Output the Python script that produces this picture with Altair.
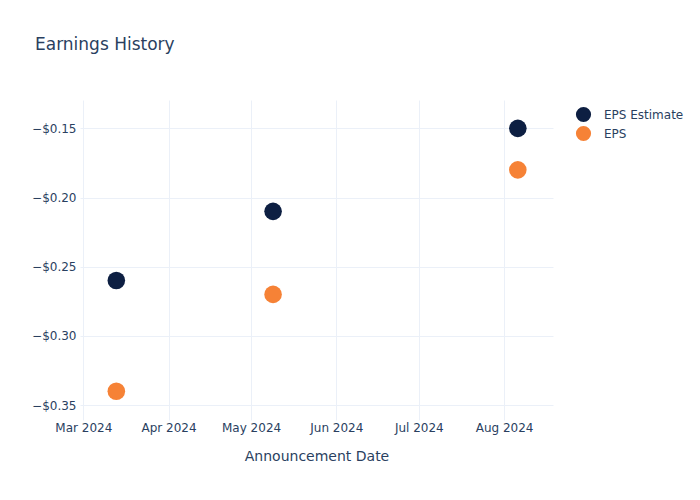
import altair as alt
import pandas as pd

dates = ["2024-03-13", "2024-05-09", "2024-08-06"]
eps_estimate = [-0.26, -0.21, -0.15]
eps_actual = [-0.34, -0.27, -0.18]
series_names = ["EPS Estimate", "EPS"]
series_colors = ["#0d1f42", "#f68236"]

rows = []
for d, e in zip(dates, eps_estimate):
    rows.append({"date": d, "value": e, "series": series_names[0]})
for d, a in zip(dates, eps_actual):
    rows.append({"date": d, "value": a, "series": series_names[1]})
df = pd.DataFrame(rows)

font = "DejaVu Sans"
text_color = "#2a3f5f"
grid_color = "#ebf0f8"

chart = alt.Chart(df).mark_circle(size=310, opacity=1).encode(
    x=alt.X(
        "date:T",
        title="Announcement Date",
        scale=alt.Scale(
            type="utc",
            domain=[
                alt.DateTime(year=2024, month=2, date=28, hours=19, utc=True),
                alt.DateTime(year=2024, month=8, date=18, hours=19, utc=True),
            ],
        ),
        axis=alt.Axis(
            format="%b %Y",
            tickCount=alt.TimeIntervalStep(interval="month", step=1),
            grid=True,
            gridColor=grid_color,
            domain=False,
            ticks=False,
            labelPadding=2,
            labelFontSize=12,
            labelColor=text_color,
            labelFont=font,
            titleFont=font,
            titleFontSize=14,
            titleFontWeight="normal",
            titleColor=text_color,
            titlePadding=16,
        ),
    ),
    y=alt.Y(
        "value:Q",
        title=None,
        scale=alt.Scale(domain=[-0.3608, -0.1295], nice=False, zero=False),
        axis=alt.Axis(
            format="$.2f",
            values=[-0.35, -0.30, -0.25, -0.20, -0.15],
            grid=True,
            gridColor=grid_color,
            domain=False,
            ticks=False,
            labelPadding=4,
            labelFontSize=12,
            labelColor=text_color,
            labelFont=font,
        ),
    ),
    color=alt.Color(
        "series:N",
        scale=alt.Scale(domain=series_names, range=series_colors),
        sort=series_names,
        legend=alt.Legend(
            title=None,
            orient="none",
            legendX=495,
            legendY=6,
            symbolType="circle",
            symbolSize=230,
            symbolOpacity=1,
            labelFontSize=12,
            labelColor=text_color,
            labelFont=font,
            labelOffset=12,
            rowPadding=2,
            padding=0,
        ),
    ),
).properties(
    width=473,
    height=320,
    background="white",
    title=alt.TitleParams(
        "Earnings History",
        anchor="start",
        frame="group",
        dx=-45,
        offset=33,
        baseline="alphabetic",
        fontSize=17,
        fontWeight="normal",
        font=font,
        color=text_color,
    ),
    autosize=alt.AutoSizeParams(type="none"),
    padding={"left": 80, "top": 100, "right": 147, "bottom": 80},
).configure_view(stroke=None, strokeWidth=0)

chart.save("out.html", embed_options={"renderer": "svg", "actions": False})
